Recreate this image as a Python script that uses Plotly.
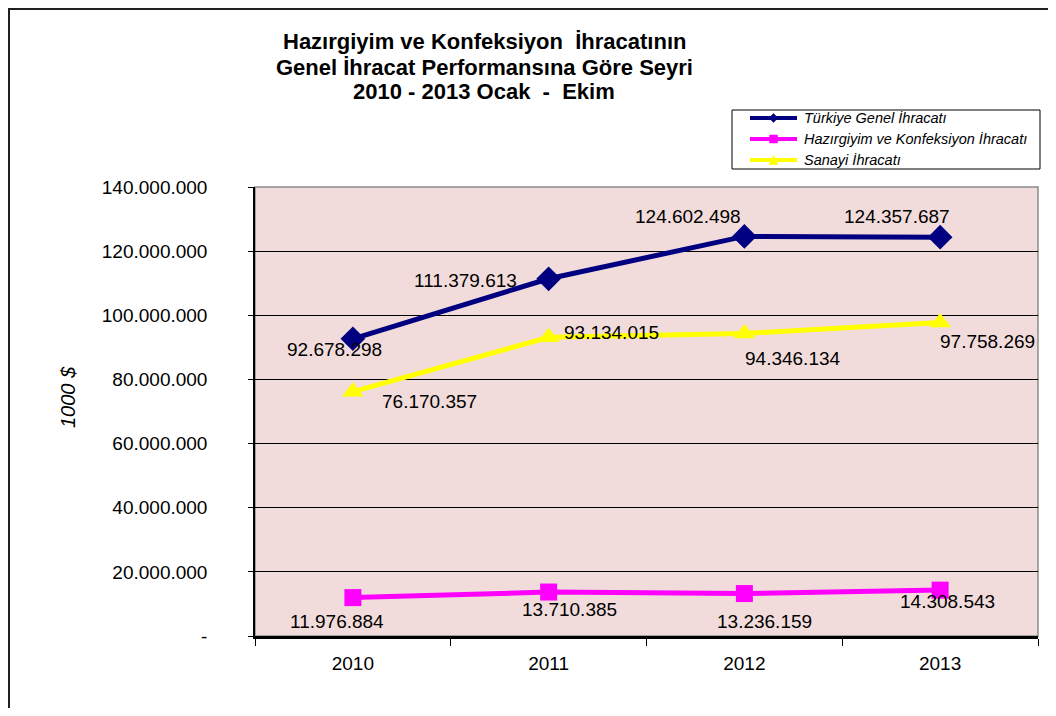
import plotly.graph_objects as go

# ---------------- data ----------------
years = ["2010", "2011", "2012", "2013"]
turkiye_genel = [92678298, 111379613, 124602498, 124357687]
hazirgiyim = [11976884, 13710385, 13236159, 14308543]
sanayi = [76170357, 93134015, 94346134, 97758269]

series_names = ["Türkiye Genel İhracatı",
                "Hazırgiyim ve Konfeksiyon İhracatı",
                "Sanayi İhracatı"]
title_lines = ["Hazırgiyim ve Konfeksiyon  İhracatının",
               "Genel İhracat Performansına Göre Seyri",
               "2010 - 2013 Ocak  -  Ekim"]
y_title = "1000 $"
y_tickvals = [0, 20000000, 40000000, 60000000, 80000000, 100000000, 120000000, 140000000]
y_ticktext = ["-", "20.000.000", "40.000.000", "60.000.000", "80.000.000",
              "100.000.000", "120.000.000", "140.000.000"]

# ---------------- styles ----------------
colors = ["#000080", "#FF00FF", "#FFFF00"]
symbols = ["diamond", "square", "triangle-up"]
msizes = [19, 17, 19]
# label offsets in pixels (xshift, yshift) per series per year
offsets = [
    [(-18, -11), (-83, -2), (-56, 20), (-43, 21)],
    [(-16, -24), (21, -17), (20, -28), (7, -11)],
    [(77, -10), (63, 5), (49, -25), (47, -19)],
]

FONT = "Liberation Sans, Arial, sans-serif"

# page has an 8px body margin; positions below are page pixels
OFF = 8
W, H = 1040, 700
L, R, T, B = 255, 1038, 187, 636
pw, ph = R - L, B - T


def px_x(x):
    return (x - L) / pw


def px_y(y):
    return (B - y) / ph


def fmt(v):
    return f"{v:,}".replace(",", ".")


fig = go.Figure()
all_series = [turkiye_genel, hazirgiyim, sanayi]

for i, vals in enumerate(all_series):
    fig.add_trace(go.Scatter(
        x=years, y=vals, mode="lines+markers", name=series_names[i],
        line=dict(color=colors[i], width=5),
        marker=dict(symbol=symbols[i], size=msizes[i], color=colors[i]),
        showlegend=False, cliponaxis=False,
    ))

annotations = []
for i, vals in enumerate(all_series):
    for j, v in enumerate(vals):
        dx, dy = offsets[i][j]
        annotations.append(dict(
            x=j, y=v, xref="x", yref="y", text=fmt(v), showarrow=False,
            xshift=dx, yshift=dy, font=dict(family=FONT, size=19, color="#000000"),
        ))

title_y = [42, 67, 92]
for k, line in enumerate(title_lines):
    annotations.append(dict(
        x=px_x(484), y=px_y(title_y[k]), xref="paper", yref="paper",
        text="<b>" + line + "</b>", showarrow=False, xanchor="center", yanchor="middle",
        font=dict(family=FONT, size=22, color="#000000"),
    ))

annotations.append(dict(
    x=px_x(68), y=px_y(397), xref="paper", yref="paper", text=y_title,
    showarrow=False, textangle=-90, xanchor="center", yanchor="middle",
    font=dict(family=FONT, size=20, color="#000000", style="italic"),
))

shapes = [
    # outer chart border
    dict(type="rect", xref="paper", yref="paper",
         x0=px_x(OFF + 1), x1=px_x(1080), y0=px_y(760), y1=px_y(OFF + 1),
         line=dict(color="#202020", width=2), fillcolor="rgba(0,0,0,0)", layer="below"),
    # plot area border (gray)
    dict(type="rect", xref="paper", yref="paper", x0=0, x1=1, y0=0, y1=1,
         line=dict(color="#8C8C8C", width=1.5), fillcolor="rgba(0,0,0,0)", layer="below"),
]

# ---- manual legend ----
leg_x0, leg_x1, leg_y0, leg_y1 = 732, 1040, 110, 169
shapes.append(dict(type="rect", xref="paper", yref="paper",
                   x0=px_x(leg_x0), x1=px_x(leg_x1), y0=px_y(leg_y1), y1=px_y(leg_y0),
                   line=dict(color="#000000", width=1), fillcolor="#FFFFFF", layer="above"))
leg_rows = [118, 139, 160]
lx0, lx1, lxm = 750, 797, 773.5
for i, yy in enumerate(leg_rows):
    shapes.append(dict(type="line", xref="paper", yref="paper",
                       x0=px_x(lx0), x1=px_x(lx1), y0=px_y(yy), y1=px_y(yy),
                       line=dict(color=colors[i], width=4), layer="above"))
    if symbols[i] == "diamond":
        s = 4.5
        path = (f"M {px_x(lxm - s)},{px_y(yy)} L {px_x(lxm)},{px_y(yy - s)} "
                f"L {px_x(lxm + s)},{px_y(yy)} L {px_x(lxm)},{px_y(yy + s)} Z")
    elif symbols[i] == "square":
        s = 4
        path = (f"M {px_x(lxm - s)},{px_y(yy - s)} L {px_x(lxm + s)},{px_y(yy - s)} "
                f"L {px_x(lxm + s)},{px_y(yy + s)} L {px_x(lxm - s)},{px_y(yy + s)} Z")
    else:
        s = 4.5
        path = (f"M {px_x(lxm - s)},{px_y(yy + s)} L {px_x(lxm)},{px_y(yy - s)} "
                f"L {px_x(lxm + s)},{px_y(yy + s)} Z")
    shapes.append(dict(type="path", xref="paper", yref="paper", path=path,
                       fillcolor=colors[i], line=dict(color=colors[i], width=0.5),
                       layer="above"))
    annotations.append(dict(
        x=px_x(802), y=px_y(yy), xref="paper", yref="paper", text=series_names[i],
        showarrow=False, xanchor="left", yanchor="middle",
        font=dict(family=FONT, size=14.5, color="#000000", style="italic"),
    ))

fig.update_layout(
    width=W, height=H, autosize=False,
    margin=dict(l=L - OFF, r=W - (R - OFF), t=T - OFF, b=H - (B - OFF), pad=0),
    paper_bgcolor="#FFFFFF", plot_bgcolor="#F2DCDB",
    font=dict(family=FONT, size=19, color="#000000"),
    annotations=annotations, shapes=shapes, showlegend=False,
    xaxis=dict(
        type="category", categoryorder="array", categoryarray=years,
        range=[-0.5, 3.5], tickson="boundaries", ticks="outside", ticklen=7,
        tickwidth=1, tickcolor="#000000", showgrid=False,
        showline=True, linecolor="#000000", linewidth=2.5,
        tickfont=dict(family=FONT, size=19, color="#000000"),
        ticklabelstandoff=8, zeroline=False,
    ),
    yaxis=dict(
        range=[0, 140000000], tickvals=y_tickvals, ticktext=y_ticktext,
        ticks="outside", ticklen=5, tickwidth=1, tickcolor="#000000",
        showgrid=True, gridcolor="#000000", gridwidth=1,
        showline=True, linecolor="#000000", linewidth=1.5, zeroline=False,
        tickfont=dict(family=FONT, size=19, color="#000000"),
        ticklabelstandoff=37,
    ),
)

fig.write_html("out.html")
